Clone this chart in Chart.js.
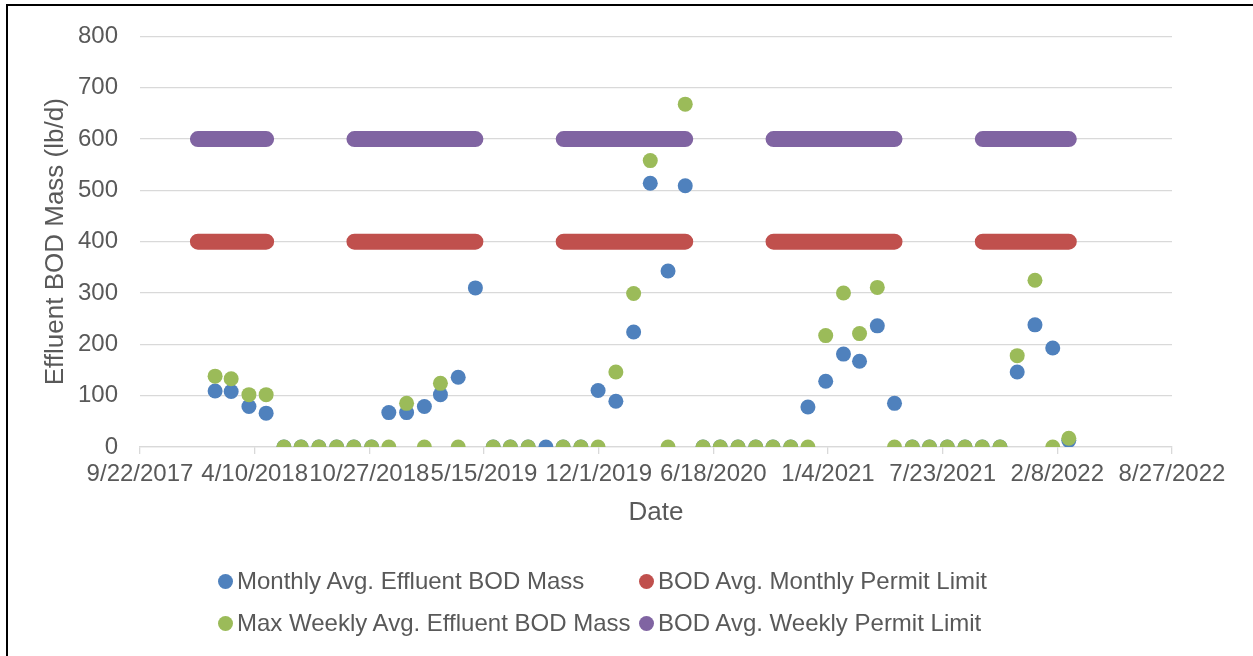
<!DOCTYPE html>
<html>
<head>
<meta charset="utf-8">
<script src="https://cdn.jsdelivr.net/npm/chart.js@4.4.1/dist/chart.umd.min.js"></script>
<style>
  html, body { margin: 0; padding: 0; background: #fff; }
  body { width: 1253px; height: 656px; position: relative; overflow: hidden; font-family: "Liberation Sans", Arial, sans-serif; }
  #wrap { position: absolute; left: 0; top: 0; width: 1253px; height: 532px; }
  #frame { position: absolute; left: 6px; top: 4px; width: 1300px; height: 700px; border-left: 2px solid #000; border-top: 2px solid #000; pointer-events: none; }
  #legend { position: absolute; left: 218px; top: 566px; display: grid; grid-template-columns: 421px auto; row-gap: 12px; color: #595959; font-size: 24px; line-height: 30px; }
  #legend .item { display: flex; align-items: center; white-space: nowrap; }
  #legend .dot { width: 15px; height: 15px; border-radius: 50%; margin-right: 4px; flex: none; }
</style>
</head>
<body>
<div id="wrap"><canvas id="myChart"></canvas></div>
<div id="frame"></div>
<div id="legend"></div>
<script>
// month-end sample dates
var sampleDates = [
    '1/31/2018', '2/28/2018', '3/31/2018', '4/30/2018', '5/31/2018', '6/30/2018',
    '7/31/2018', '8/31/2018', '9/30/2018', '10/31/2018', '11/30/2018', '12/31/2018',
    '1/31/2019', '2/28/2019', '3/31/2019', '4/30/2019', '5/31/2019', '6/30/2019',
    '7/31/2019', '8/31/2019', '9/30/2019', '10/31/2019', '11/30/2019', '12/31/2019',
    '1/31/2020', '2/29/2020', '3/31/2020', '4/30/2020', '5/31/2020', '6/30/2020',
    '7/31/2020', '8/31/2020', '9/30/2020', '10/31/2020', '11/30/2020', '12/31/2020',
    '1/31/2021', '2/28/2021', '3/31/2021', '4/30/2021', '5/31/2021', '6/30/2021',
    '7/31/2021', '8/31/2021', '9/30/2021', '10/31/2021', '11/30/2021', '12/31/2021',
    '1/31/2022', '2/28/2022'
];
var monthlyAvg = [
    109, 108, 79, 66, 0, 0, 0, 0, 0, 0, 67, 67,
    79, 102, 136, 310, 0, 0, 0, 0, 0, 0, 110, 89,
    224, 514, 343, 509, 0, 0, 0, 0, 0, 0, 78, 128,
    181, 167, 236, 85, 0, 0, 0, 0, 0, 0, 146, 238,
    193, 13
];
var maxWeeklyAvg = [
    138, 133, 102, 102, 0, 0, 0, 0, 0, 0, 0, 85,
    0, 124, 0, null, 0, 0, 0, null, 0, 0, 0, 146,
    299, 558, 0, 668, 0, 0, 0, 0, 0, 0, 0, 217,
    300, 221, 311, 0, 0, 0, 0, 0, 0, 0, 178, 325,
    0, 17
];
// permit seasons (limits apply between these dates)
var limitStart = ['1/1/2018', '10/1/2018', '10/1/2019', '10/1/2020', '10/1/2021'];
var limitEnd = ['4/30/2018', '4/30/2019', '4/30/2020', '4/30/2021', '2/28/2022'];
var monthlyLimit = 400;
var weeklyLimit = 600;

var xTickLabels = ['9/22/2017', '4/10/2018', '10/27/2018', '5/15/2019', '12/1/2019',
    '6/18/2020', '1/4/2021', '7/23/2021', '2/8/2022', '8/27/2022'];
var seriesNames = ['Monthly Avg. Effluent BOD Mass', 'BOD Avg. Monthly Permit Limit',
    'Max Weekly Avg. Effluent BOD Mass', 'BOD Avg. Weekly Permit Limit'];
var seriesColors = ['#4F81BD', '#C0504D', '#9BBB59', '#8064A2'];

// excel style day serial
function toSerial(s) {
    var p = s.split('/').map(Number);
    return (Date.UTC(p[2], p[0] - 1, p[1]) - Date.UTC(1899, 11, 30)) / 86400000;
}
var xTickValues = xTickLabels.map(toSerial);

function pointSeries(values) {
    return sampleDates.map(function (d, i) {
        return { x: toSerial(d), y: values[i] };
    });
}
function limitSeries(value) {
    var out = [];
    for (var i = 0; i < limitStart.length; i++) {
        out.push({ x: toSerial(limitStart[i]), y: value });
        out.push({ x: toSerial(limitEnd[i]), y: value });
        out.push({ x: toSerial(limitEnd[i]) + 1, y: null });
    }
    return out;
}

var FONT = '"Liberation Sans", Arial, sans-serif';
var GREY = '#595959';
var GRID = '#D9D9D9';

var ctx = document.getElementById('myChart');
var myChart = new Chart(ctx, {
    type: 'scatter',
    data: {
        datasets: [
            {
                label: seriesNames[0],
                data: pointSeries(monthlyAvg),
                backgroundColor: seriesColors[0],
                pointRadius: 7.5,
                pointBorderWidth: 0,
                order: 2
            },
            {
                label: seriesNames[1],
                data: limitSeries(monthlyLimit),
                showLine: true,
                spanGaps: false,
                borderColor: seriesColors[1],
                backgroundColor: seriesColors[1],
                borderWidth: 16,
                borderCapStyle: 'round',
                pointRadius: 0,
                order: 3
            },
            {
                label: seriesNames[2],
                data: pointSeries(maxWeeklyAvg),
                backgroundColor: seriesColors[2],
                pointRadius: 7.5,
                pointBorderWidth: 0,
                order: 1
            },
            {
                label: seriesNames[3],
                data: limitSeries(weeklyLimit),
                showLine: true,
                spanGaps: false,
                borderColor: seriesColors[3],
                backgroundColor: seriesColors[3],
                borderWidth: 16,
                borderCapStyle: 'round',
                pointRadius: 0,
                order: 4
            }
        ]
    },
    options: {
        responsive: true,
        maintainAspectRatio: false,
        animation: false,
        layout: { padding: { left: 0, right: 81, top: 32, bottom: 0 } },
        plugins: {
            legend: { display: false },
            tooltip: { enabled: false }
        },
        scales: {
            x: {
                type: 'linear',
                min: xTickValues[0],
                max: xTickValues[xTickValues.length - 1],
                afterBuildTicks: function (scale) {
                    scale.ticks = xTickValues.map(function (v) { return { value: v }; });
                },
                afterFit: function (scale) { scale.height = 85; },
                ticks: {
                    autoSkip: false,
                    maxRotation: 0,
                    minRotation: 0,
                    padding: 6,
                    color: GREY,
                    font: { family: FONT, size: 24 },
                    callback: function (value) {
                        return xTickLabels[xTickValues.indexOf(value)];
                    }
                },
                grid: {
                    drawOnChartArea: false,
                    drawTicks: true,
                    tickLength: 7,
                    color: GRID,
                    lineWidth: 1.3
                },
                border: { display: true, color: GRID, width: 1.3 },
                title: {
                    display: true,
                    text: 'Date',
                    color: GREY,
                    font: { family: FONT, size: 26 },
                    padding: { top: 0, bottom: 4 }
                }
            },
            y: {
                min: 0,
                max: 800,
                afterFit: function (scale) { scale.width = 140; },
                ticks: {
                    stepSize: 100,
                    padding: 22,
                    color: GREY,
                    font: { family: FONT, size: 24 }
                },
                grid: { color: GRID, lineWidth: 1.3, drawTicks: false },
                border: { display: false },
                title: {
                    display: true,
                    text: 'Effluent BOD Mass (lb/d)',
                    color: GREY,
                    font: { family: FONT, size: 26 },
                    padding: { top: 40, bottom: 0 }
                }
            }
        }
    }
});

// html legend laid out in two columns like the original
var legendEl = document.getElementById('legend');
[0, 1, 2, 3].forEach(function (i) {
    var item = document.createElement('div');
    item.className = 'item';
    var dot = document.createElement('span');
    dot.className = 'dot';
    dot.style.background = seriesColors[i];
    var txt = document.createElement('span');
    txt.textContent = seriesNames[i];
    item.appendChild(dot);
    item.appendChild(txt);
    legendEl.appendChild(item);
});
</script>
</body>
</html>
